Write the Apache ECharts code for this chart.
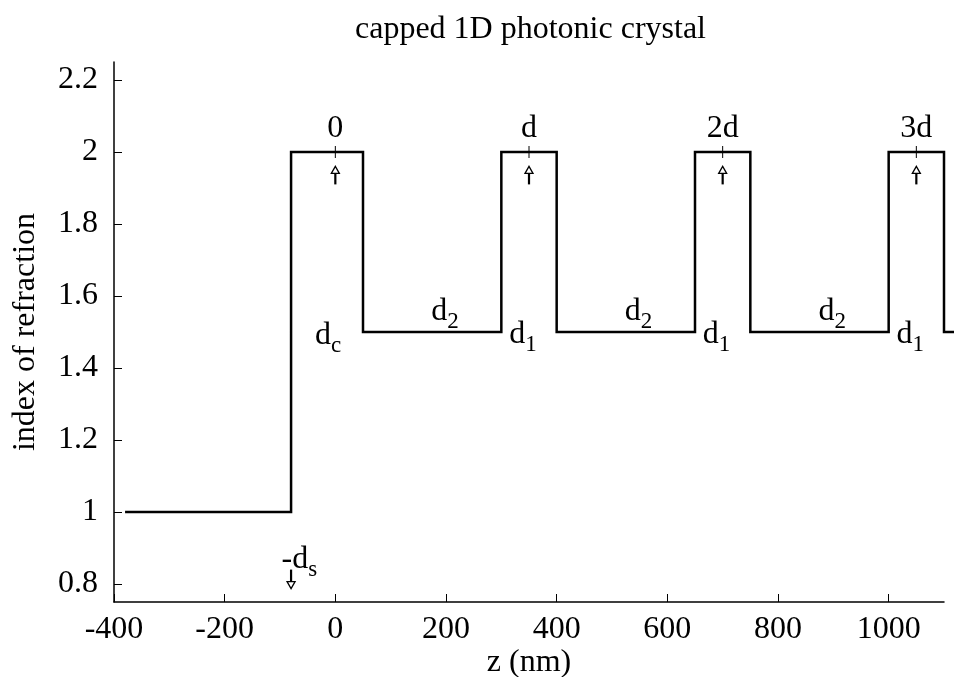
<!DOCTYPE html>
<html>
<head>
<meta charset="utf-8">
<script src="https://cdn.jsdelivr.net/npm/echarts@6/dist/echarts.min.js"></script>
<style>
  html, body { margin: 0; padding: 0; background: #fff; }
  #chart { width: 954px; height: 677px; }
</style>
</head>
<body>
<div id="chart"></div>
<script>
// Text
const titleText = 'capped 1D photonic crystal';
const xAxisName = 'z (nm)';
const yAxisName = 'index of refraction';

// Axis ticks
const xTicks = [-400, -200, 0, 200, 400, 600, 800, 1000];
const yTicks = [0.8, 1, 1.2, 1.4, 1.6, 1.8, 2, 2.2];

// Refractive-index profile: corners of the step function (z in nm, n)
const profileZ = [-380, -80, -80, 50, 50, 300, 300, 400, 400, 650, 650, 750, 750, 1000, 1000, 1100, 1100, 1130];
const profileN = [1, 1, 2, 2, 1.5, 1.5, 2, 2, 1.5, 1.5, 2, 2, 1.5, 1.5, 2, 2, 1.5, 1.5];

// Period origins, marked on the high-index layers
const periodZ = [0, 350, 700, 1050];
const periodLabels = ['0', 'd', '2d', '3d'];
const periodLabelN = 2.11;
const periodArrowTail = 1.91;
const periodArrowTip = 1.96;
const periodMarkN = 2;

// Substrate boundary (-d_s)
const substrateZ = -80;
const substrateArrowTail = 0.84;
const substrateArrowTip = 0.787;
const substrateLabelZ = -65;
const substrateLabelN = 0.912;

// Layer thickness labels: main letter + subscript
const layerMain = ['d', 'd', 'd', 'd', 'd', 'd', 'd'];
const layerSub = ['c', '2', '1', '2', '1', '2', '1'];
const layerZ = [-13, 198, 339, 548, 689, 898, 1039];
const layerN = [1.535, 1.601, 1.538, 1.601, 1.538, 1.601, 1.538];

const FONT = '"Liberation Serif", "DejaVu Serif", serif';
const FS = 32;
const SUB_FS = 23;

const richStyles = {
  m: { fontFamily: FONT, fontSize: FS, lineHeight: FS, verticalAlign: 'top', color: '#000' },
  s: { fontFamily: FONT, fontSize: SUB_FS, lineHeight: SUB_FS, verticalAlign: 'top', padding: [15, 0, 0, 0], color: '#000' }
};

const profileData = profileZ.map((z, i) => [z, profileN[i]]);

const arrowData = periodZ.map(z => [z, periodArrowTail, periodArrowTip]);
arrowData.push([substrateZ, substrateArrowTail, substrateArrowTip]);

const markData = periodZ.map(z => [z, periodMarkN]);

// label records: [z, n, main, sub]
const labelData = [];
periodZ.forEach((z, i) => labelData.push([z, periodLabelN, periodLabels[i], '']));
layerZ.forEach((z, i) => labelData.push([z, layerN[i], layerMain[i], layerSub[i]]));
labelData.push([substrateLabelZ, substrateLabelN, '-d', 's']);

const chart = echarts.init(document.getElementById('chart'), null, { renderer: 'canvas' });

chart.setOption({
  animation: false,
  backgroundColor: '#fff',
  title: {
    text: titleText,
    left: 350,
    top: 9,
    textStyle: { fontFamily: FONT, fontSize: FS, fontWeight: 'normal', color: '#000' }
  },
  grid: { left: 114, right: 10, top: 62, bottom: 75, containLabel: false, outerBoundsMode: 'none' },
  xAxis: {
    type: 'value',
    min: -400,
    max: 1100,
    name: xAxisName,
    nameLocation: 'middle',
    nameGap: 45,
    nameMoveOverlap: false,
    nameTextStyle: { fontFamily: FONT, fontSize: FS, color: '#000' },
    axisLine: { show: true, onZero: false, lineStyle: { color: '#000', width: 1.5 } },
    axisTick: { show: true, inside: true, length: 8, customValues: xTicks, lineStyle: { color: '#000', width: 1 } },
    axisLabel: {
      customValues: xTicks,
      margin: 12,
      fontFamily: FONT,
      fontSize: FS,
      color: '#000',
      formatter: v => String(v)
    },
    splitLine: { show: false }
  },
  yAxis: {
    type: 'value',
    min: 0.75,
    max: 2.25,
    name: yAxisName,
    nameLocation: 'middle',
    nameGap: 72,
    nameMoveOverlap: false,
    nameTextStyle: { fontFamily: FONT, fontSize: FS, color: '#000' },
    axisLine: { show: true, onZero: false, lineStyle: { color: '#000', width: 1.5 } },
    axisTick: { show: true, inside: true, length: 8, customValues: yTicks, lineStyle: { color: '#000', width: 1 } },
    axisLabel: {
      customValues: yTicks,
      margin: 16,
      fontFamily: FONT,
      fontSize: FS,
      color: '#000',
      formatter: v => String(Math.round(v * 10) / 10)
    },
    splitLine: { show: false }
  },
  series: [
    {
      // index profile as one polyline; runs a little past the right edge of the axes
      type: 'custom',
      data: profileData,
      clip: false,
      renderItem(params, api) {
        if (params.dataIndex !== 0) return null;
        const pts = profileData.map(d => api.coord(d));
        return {
          type: 'polyline',
          shape: { points: pts },
          style: { stroke: '#000', lineWidth: 2.5, fill: null, lineJoin: 'miter' }
        };
      },
      z: 3
    },
    {
      // short marks at period origins
      type: 'custom',
      data: markData,
      clip: false,
      renderItem(params, api) {
        const p = api.coord([api.value(0), api.value(1)]);
        return {
          type: 'line',
          shape: { x1: p[0], y1: p[1] - 6, x2: p[0], y2: p[1] + 6 },
          style: { stroke: '#000', lineWidth: 1 }
        };
      },
      z: 4
    },
    {
      // arrows with hollow heads
      type: 'custom',
      data: arrowData,
      clip: false,
      renderItem(params, api) {
        const z = api.value(0);
        const tail = api.coord([z, api.value(1)]);
        const tip = api.coord([z, api.value(2)]);
        const dir = tip[1] > tail[1] ? 1 : -1;
        const headLen = 7;
        const headHalf = 4;
        const base = tip[1] - dir * headLen;
        return {
          type: 'group',
          children: [
            {
              type: 'line',
              shape: { x1: tail[0], y1: tail[1], x2: tail[0], y2: base },
              style: { stroke: '#000', lineWidth: 2.2 }
            },
            {
              type: 'polygon',
              shape: { points: [[tip[0], tip[1]], [tip[0] - headHalf, base], [tip[0] + headHalf, base]] },
              style: { fill: '#fff', stroke: '#000', lineWidth: 1.3 }
            }
          ]
        };
      },
      z: 4
    },
    {
      // text labels
      type: 'custom',
      data: labelData,
      clip: false,
      renderItem(params, api) {
        const rec = labelData[params.dataIndex];
        const p = api.coord([rec[0], rec[1]]);
        const text = rec[3] ? '{m|' + rec[2] + '}{s|' + rec[3] + '}' : '{m|' + rec[2] + '}';
        return {
          type: 'text',
          x: p[0],
          y: p[1],
          style: {
            text: text,
            rich: richStyles,
            align: 'center',
            verticalAlign: 'top'
          }
        };
      },
      z: 5
    }
  ]
});
</script>
</body>
</html>
